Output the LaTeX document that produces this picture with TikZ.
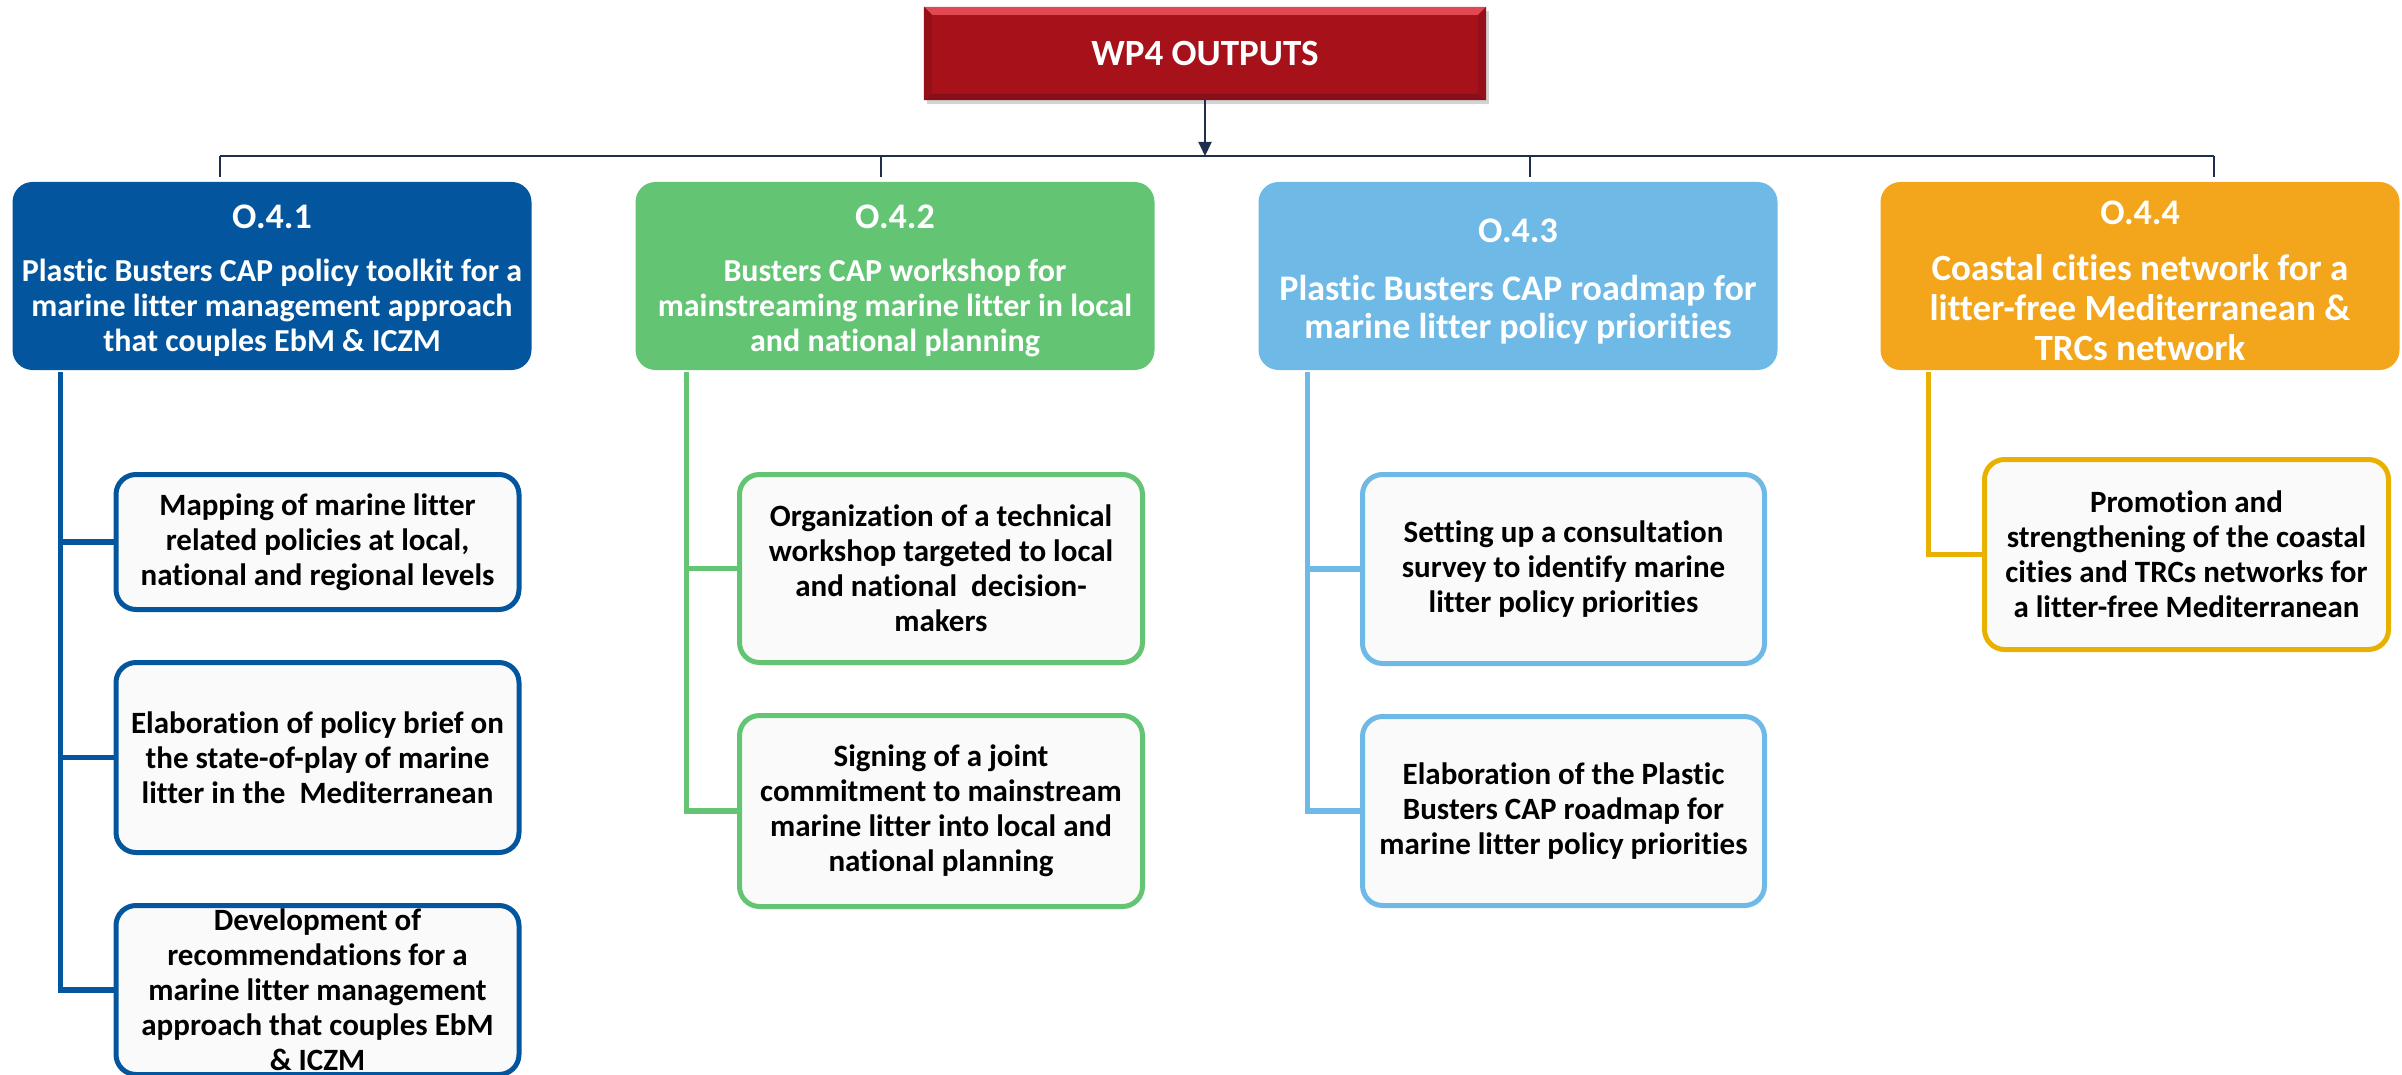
\documentclass[tikz,border=0pt]{standalone}
\usepackage{fontspec}
\setmainfont{Carlito}[Ligatures=NoCommon]
\usetikzlibrary{arrows.meta,shadows}
\definecolor{cblue}{HTML}{03569E}
\definecolor{cgreen}{HTML}{63C574}
\definecolor{clight}{HTML}{6FB9E7}
\definecolor{corange}{HTML}{F3A61C}
\definecolor{cgold}{HTML}{E8B000}
\definecolor{boxfill}{HTML}{FAFAFA}
\definecolor{navy}{HTML}{1F2D4F}
\definecolor{cred}{HTML}{A6111A}
\definecolor{redlight}{HTML}{E14852}
\definecolor{reddark}{HTML}{86101A}
\definecolor{redside}{HTML}{951019}
\newcommand{\outlabel}[1]{{\fontsize{36}{40}\selectfont\rule{0pt}{34pt}#1}}
\begin{document}
\begin{tikzpicture}[x=1pt,y=-1pt,
  titlebox/.style={rounded corners=20pt, minimum width=519pt, minimum height=188pt, inner sep=0pt,
    align=center, text=white, font=\bfseries\fontsize{32}{35}\selectfont},
  childbox/.style={rounded corners=20pt, fill=boxfill, draw, line width=5pt, minimum width=403pt,
    inner sep=0pt, align=center, text=black, font=\bfseries\fontsize{31}{35}\selectfont},
  link/.style={line width=5.5pt},
  topline/.style={draw=navy, line width=2pt},
]
\useasboundingbox (0,0) rectangle (2402,1075);

% top box
\node[fill=cred, minimum width=562pt, minimum height=93pt, inner sep=0pt, text=white,
  font=\bfseries\fontsize{37}{40}\selectfont,
  drop shadow={shadow xshift=3pt, shadow yshift=-4pt, opacity=0.35}] (top) at (1205,53.5) {WP4 OUTPUTS};
\fill[redlight] (top.north west) -- (top.north east) -- ([xshift=-8pt,yshift=-8pt]top.north east) -- ([xshift=8pt,yshift=-8pt]top.north west) -- cycle;
\fill[reddark] (top.south west) -- (top.south east) -- ([xshift=-8pt,yshift=6pt]top.south east) -- ([xshift=8pt,yshift=6pt]top.south west) -- cycle;
\fill[redside] (top.north west) -- ([xshift=8pt,yshift=-8pt]top.north west) -- ([xshift=8pt,yshift=6pt]top.south west) -- (top.south west) -- cycle;
\fill[redside] (top.north east) -- ([xshift=-8pt,yshift=-8pt]top.north east) -- ([xshift=-8pt,yshift=6pt]top.south east) -- (top.south east) -- cycle;

% title boxes
\node[titlebox, fill=cblue] (t1) at (272,276) {\outlabel{O.4.1}\\[18pt]
  Plastic Busters CAP policy toolkit for a\\ marine litter management approach\\ that couples EbM \& ICZM};
\node[titlebox, fill=cgreen] (t2) at (895,276) {\outlabel{O.4.2}\\[18pt]
  Busters CAP workshop for\\ mainstreaming marine litter in local\\ and national planning};
\node[titlebox, fill=clight, font=\bfseries\fontsize{36}{38}\selectfont] (t3) at (1518,276) {\outlabel{O.4.3}\\[20pt]
  Plastic Busters CAP roadmap for\\ marine litter policy priorities};
\node[titlebox, fill=corange, font=\bfseries\fontsize{37}{40}\selectfont] (t4) at (2140,276) {\outlabel{O.4.4}\\[16pt]
  Coastal cities network for a\\ litter-free Mediterranean \&\\ TRCs network};

% connectors from top
\coordinate (h1) at (220,156);
\coordinate (h2) at (881,156);
\coordinate (h3) at (1530,156);
\coordinate (h4) at (2214,156);
\draw[topline, -{Triangle[length=14pt,width=13pt]}] (top.south) -- (top.south |- h1);
\draw[topline] (h1) -- (h4);
\draw[topline] (h1) -- ([yshift=5pt]h1 |- t1.north);
\draw[topline] (h2) -- ([yshift=5pt]h2 |- t2.north);
\draw[topline] (h3) -- ([yshift=5pt]h3 |- t3.north);
\draw[topline] (h4) -- ([yshift=5pt]h4 |- t4.north);

% children O.4.1
\node[childbox, draw=cblue, minimum height=135pt] (c11) at (317.5,542) {Mapping of marine litter\\ related policies at local,\\ national and regional levels};
\node[childbox, draw=cblue, minimum height=190pt] (c12) at (317.5,757.5) {Elaboration of policy brief on\\ the state-of-play of marine\\ litter in the~ Mediterranean};
\node[childbox, draw=cblue, minimum height=169pt] (c13) at (317.5,990) {Development of\\ recommendations for a\\ marine litter management\\ approach that couples EbM\\ \& ICZM};
\draw[link, draw=cblue] ([xshift=48pt,yshift=-2pt]t1.south west) |- (c13.west);
\draw[link, draw=cblue] ([xshift=48pt]t1.south west |- c11.west) -- (c11.west);
\draw[link, draw=cblue] ([xshift=48pt]t1.south west |- c12.west) -- (c12.west);

% children O.4.2
\node[childbox, draw=cgreen, minimum height=188pt] (c21) at (941,568.5) {Organization of a technical\\ workshop targeted to local\\ and national~ decision-\\ makers};
\node[childbox, draw=cgreen, minimum height=191pt] (c22) at (941,811) {Signing of a joint\\ commitment to mainstream\\ marine litter into local and\\ national planning};
\draw[link, draw=cgreen] ([xshift=51pt,yshift=-2pt]t2.south west) |- (c22.west);
\draw[link, draw=cgreen] ([xshift=51pt]t2.south west |- c21.west) -- (c21.west);

% children O.4.3
\node[childbox, draw=clight, minimum width=402pt, minimum height=189pt] (c31) at (1563.5,569) {Setting up a consultation\\ survey to identify marine\\ litter policy priorities};
\node[childbox, draw=clight, minimum width=402pt, minimum height=189pt] (c32) at (1563.5,811) {Elaboration of the Plastic\\ Busters CAP roadmap for\\ marine litter policy priorities};
\draw[link, draw=clight] ([xshift=49pt,yshift=-2pt]t3.south west) |- (c32.west);
\draw[link, draw=clight] ([xshift=49pt]t3.south west |- c31.west) -- (c31.west);

% child O.4.4
\node[childbox, draw=cgold, minimum width=404pt, minimum height=190pt] (c41) at (2186.5,554.5) {Promotion and\\ strengthening of the coastal\\ cities and TRCs networks for\\ a litter-free Mediterranean};
\draw[link, draw=cgold] ([xshift=48pt,yshift=-2pt]t4.south west) |- (c41.west);
\end{tikzpicture}
\end{document}
